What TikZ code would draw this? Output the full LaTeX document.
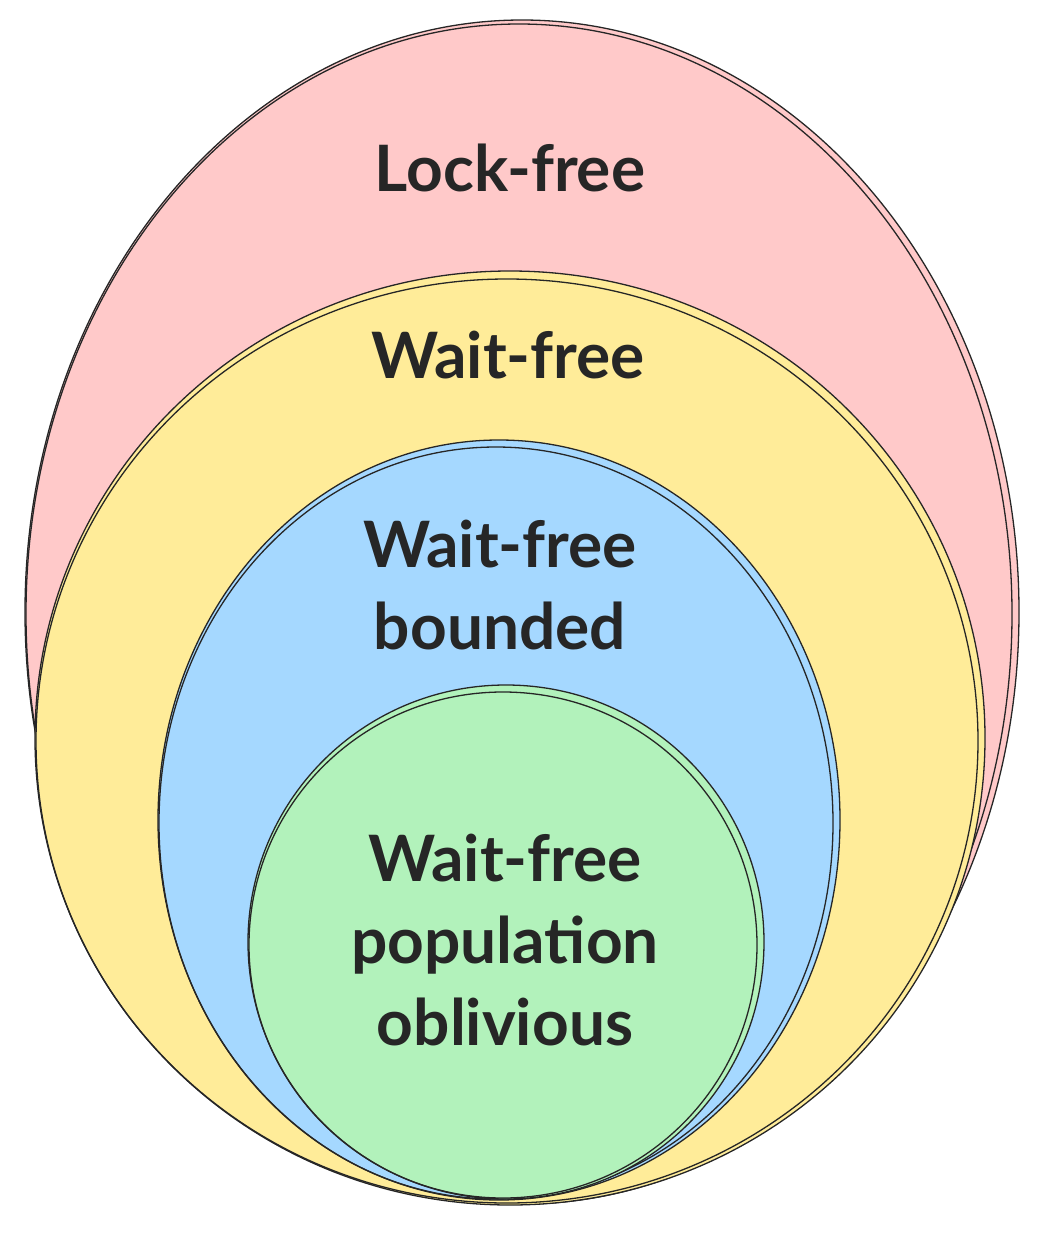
\documentclass[tikz,border=0pt]{standalone}
\usepackage{fontspec}
\setmainfont{Lato}
\definecolor{pinkf}{HTML}{FFC9C9}
\definecolor{yelf}{HTML}{FFEC99}
\definecolor{bluef}{HTML}{A5D8FF}
\definecolor{greenf}{HTML}{B2F2BB}
\begin{document}
\begin{tikzpicture}[x=1pt,y=-1pt,
  ring/.style={draw=black!85,line width=1.3pt},
  lbl/.style={font=\fontsize{64}{82}\selectfont\bfseries,align=center,text=black!85}]
\useasboundingbox (0,0) rectangle (1042,1235);
\fill[pinkf] (522,612) ellipse [x radius=497,y radius=592];
\draw[ring] (522,612) ellipse [x radius=497,y radius=592];
\draw[ring] (519,614) ellipse [x radius=493,y radius=590];
\fill[yelf] (510,738) ellipse [x radius=475,y radius=467];
\draw[ring] (510,738) ellipse [x radius=475,y radius=467];
\draw[ring] (507,741) ellipse [x radius=471,y radius=462];
\fill[bluef] (499,820) ellipse [x radius=341,y radius=380];
\draw[ring] (499,820) ellipse [x radius=341,y radius=380];
\draw[ring] (496,823) ellipse [x radius=337,y radius=376];
\fill[greenf] (506,942) ellipse [x radius=258,y radius=257];
\draw[ring] (506,942) ellipse [x radius=258,y radius=257];
\draw[ring] (503,945) ellipse [x radius=254,y radius=253];
\node[lbl] (lf) at (510,168) {Lock-free};
\node[lbl] (wf) at (508,355) {Wait-free};
\node[lbl] (wfb) at (500,585) {Wait-free\\bounded};
\node[lbl] (wfp) at (505,940) {Wait-free\\population\\oblivious};
\end{tikzpicture}
\end{document}
